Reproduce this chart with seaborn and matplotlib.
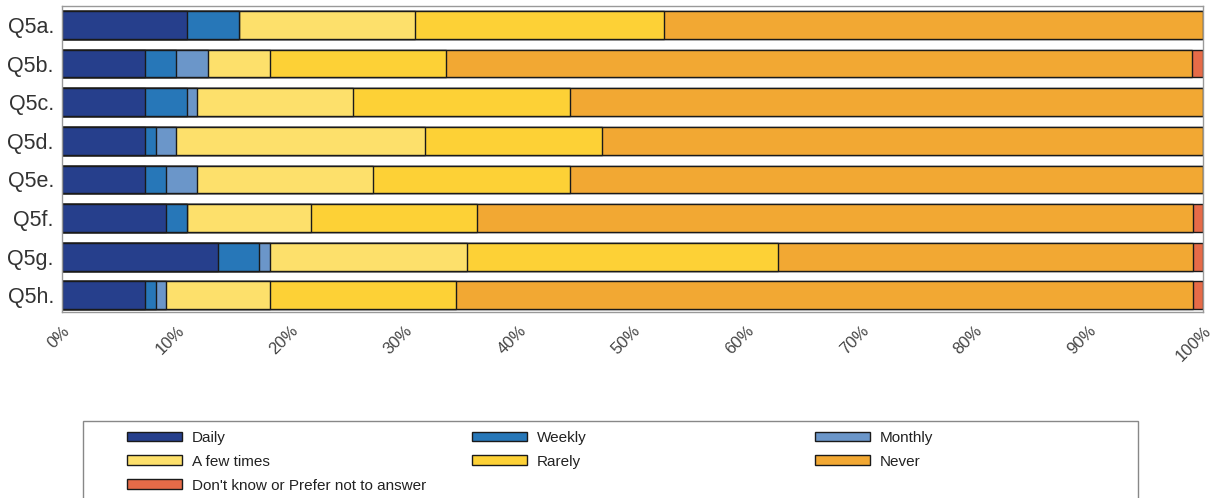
import matplotlib
matplotlib.use('Agg')
import matplotlib.pyplot as plt
import pandas as pd
import seaborn as sns
from matplotlib.patches import Patch, Rectangle

questions = ['Q5a.', 'Q5b.', 'Q5c.', 'Q5d.', 'Q5e.', 'Q5f.', 'Q5g.', 'Q5h.']
daily = [10.91, 7.27, 7.27, 7.27, 7.27, 9.09, 13.64, 7.27]
weekly = [4.55, 2.73, 3.64, 0.91, 1.82, 1.82, 3.64, 0.91]
monthly = [0.0, 2.73, 0.91, 1.82, 2.73, 0.0, 0.91, 0.91]
few_times = [15.45, 5.45, 13.64, 21.82, 15.45, 10.91, 17.27, 9.09]
rarely = [21.82, 15.45, 19.09, 15.45, 17.27, 14.55, 27.27, 16.36]
never = [47.27, 65.45, 55.45, 52.73, 55.45, 62.73, 36.36, 64.55]
dont_know = [0.0, 0.91, 0.0, 0.0, 0.0, 0.91, 0.91, 0.91]

labels = ['Daily', 'Weekly', 'Monthly', 'A few times', 'Rarely', 'Never',
          "Don't know or Prefer not to answer"]
colors = ['#263F8C', '#2777B8', '#6B96C9', '#FDE06B', '#FDD136', '#F2A833', '#E66B48']

df = pd.DataFrame({'Daily': daily, 'Weekly': weekly, 'Monthly': monthly,
                   'A few times': few_times, 'Rarely': rarely, 'Never': never,
                   "Don't know or Prefer not to answer": dont_know},
                  index=questions)
cum = df.cumsum(axis=1)

sns.set_style('white')
plt.rcParams['font.family'] = ['Liberation Sans', 'DejaVu Sans']

fig = plt.figure(figsize=(12.1, 4.98), dpi=100)
ax = fig.add_axes([0.0515, 0.3735, 0.9427, 0.6145])

# draw cumulative bars from the longest down so they look stacked
for lab, col in reversed(list(zip(labels, colors))):
    sns.barplot(x=cum[lab].values, y=questions, orient='h', color=col,
                saturation=1, width=0.72, edgecolor='#1a1a1a', linewidth=1.0,
                errorbar=None, ax=ax)

ax.set_xlim(0, 100)
ax.set_ylim(7.43, -0.49)
ax.set_xticks(range(0, 101, 10))
ax.set_xticklabels([f'{v}%' for v in range(0, 101, 10)], rotation=45,
                   ha='right', va='top', rotation_mode='anchor',
                   fontsize=12, color='#444444')
ax.tick_params(axis='x', length=5, color='#999999', pad=3)
ax.tick_params(axis='y', length=0, labelsize=15.5, labelcolor='#333333', pad=6)
ax.set_xlabel('')
ax.set_ylabel('')
for s in ax.spines.values():
    s.set_color('#999999')
    s.set_linewidth(1.0)

# legend frame, runs off the bottom like the original
fig.patches.append(Rectangle((0.0686, -0.05), 0.872, 0.2046, transform=fig.transFigure,
                             fill=False, edgecolor='#888888', linewidth=1.0))

columns = [[0, 3, 6], [1, 4], [2, 5]]
xs = [0.105, 0.390, 0.6736]
for idxs, x in zip(columns, xs):
    handles = [Patch(facecolor=colors[i], edgecolor='#1a1a1a', linewidth=1.0,
                     label=labels[i]) for i in idxs]
    fig.legend(handles=handles, loc='upper left', bbox_to_anchor=(x, 0.135),
               frameon=False, fontsize=11, handlelength=3.6, handleheight=0.6,
               handletextpad=0.65, labelspacing=0.65, borderpad=0, borderaxespad=0,
               labelcolor='#222222')

fig.savefig('out.png', dpi=100)
